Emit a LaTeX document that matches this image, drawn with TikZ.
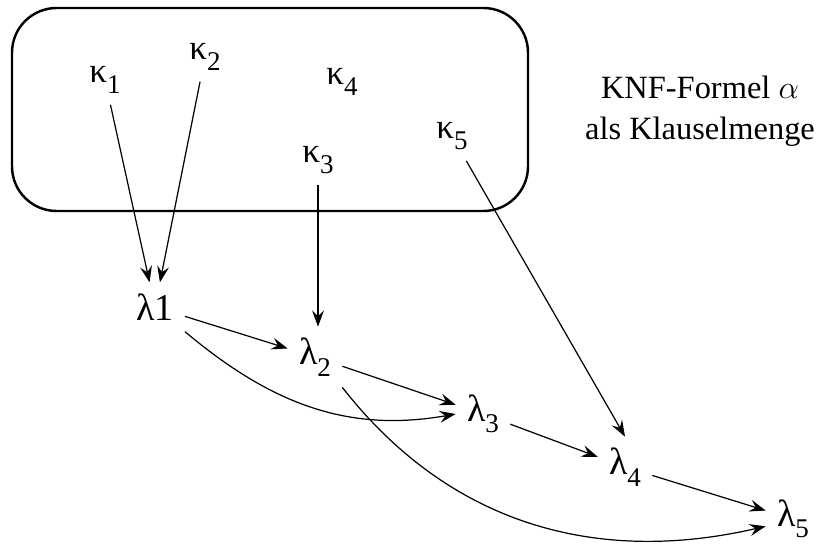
\documentclass[tikz,border=0pt]{standalone}
\usepackage{fontspec}
\setmainfont{Liberation Serif}
\usepackage{tikz}
\usetikzlibrary{arrows.meta}
\tikzset{
  every node/.style={font=\fontsize{12pt}{15pt}\selectfont, inner sep=4pt},
  clause/.style={font=\fontsize{13pt}{15pt}\selectfont},
  resolvent/.style={font=\fontsize{14pt}{15pt}\selectfont},
  link/.style={-{Stealth[length=6pt,width=4.4pt,inset=2.2pt]}, line width=0.45pt},
  setbox/.style={draw, line width=0.9pt, rounded corners=5.8mm}
}
\newcommand{\Idx}[1]{\raisebox{-0.3em}{\fontsize{10pt}{10pt}\selectfont #1}}
\newcommand{\Kap}[1]{κ\Idx{#1}}
\newcommand{\Lam}[1]{λ\Idx{#1}}

\begin{document}
\begin{tikzpicture}[x=1cm,y=1cm]
\useasboundingbox (0,0) rectangle (10.608,7.215);

% =========================
% CLAUSE SET (rounded box)
% =========================
\draw[setbox] (0.156,4.472) rectangle (6.864,7.111);

\node[clause] (k1) at (1.365,6.175) {\Kap{1}};
\node[clause] (k2) at (2.665,6.474) {\Kap{2}};
\node[clause] (k4) at (4.446,6.149) {\Kap{4}};
\node[clause] (k5) at (5.876,5.447) {\Kap{5}};
\node[clause] (k3) at (4.134,5.135) {\Kap{3}};

\node[align=center] (knf) at (9.1,5.772) {KNF-Formel $\alpha$\\als Klauselmenge};

% =========================
% RESOLVENTS
% =========================
\node[resolvent] (l1) at (2.015,3.224)  {λ1};
\node[resolvent] (l2) at (4.095,2.574)  {\Lam{2}};
\node[resolvent] (l3) at (6.279,1.833)  {\Lam{3}};
\node[resolvent] (l4) at (8.125,1.144)  {\Lam{4}};
\node[resolvent] (l5) at (10.309,0.468) {\Lam{5}};

% =========================
% EDGES
% =========================
\draw[link] (k1) -- (l1);
\draw[link] (k2) -- (l1);
\draw[link] (k3) -- (k3 |- l2.north);
\draw[link] (k5) -- (l4.north);

\draw[link] (l1) -- (l2);
\draw[link] (l2) -- (l3);
\draw[link] (l3) -- (l4);
\draw[link] (l4) -- (l5);

% long ones
\draw[link] (l1.south east) to[out=-40,in=190] (l3.west);
\draw[link] (l2.south east) to[out=-52,in=193,looseness=1.0] (l5.195);

\end{tikzpicture}
\end{document}
